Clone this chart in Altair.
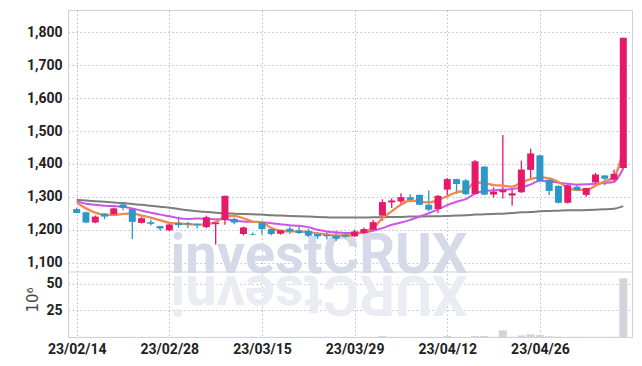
import altair as alt
import pandas as pd

# ---- data ----
tick_idx = [0, 10, 20, 30, 40, 50]
tick_labels = ["23/02/14", "23/02/28", "23/03/15", "23/03/29", "23/04/12", "23/04/26"]
price_ticks = [1100, 1200, 1300, 1400, 1500, 1600, 1700, 1800]
vol_ticks = [25, 50]

open_ = [1263, 1253, 1222, 1249, 1247, 1277, 1263, 1221, 1223, 1211,
         1198, 1221, 1220, 1218, 1208, 1217, 1230, 1233, 1187, 1186,
         1222, 1202, 1188, 1203, 1198, 1197, 1187, 1185, 1182, 1185,
         1180, 1190, 1200, 1243, 1283, 1286, 1299, 1306, 1276, 1263,
         1322, 1354, 1350, 1309, 1392, 1307, 1314, 1304, 1314, 1382,
         1426, 1352, 1333, 1282, 1331, 1306, 1344, 1365, 1352, 1388]
high = [1267, 1255, 1243, 1251, 1268, 1278, 1265, 1238, 1231, 1212,
        1219, 1240, 1224, 1220, 1243, 1227, 1304, 1237, 1210, 1192,
        1227, 1207, 1200, 1210, 1210, 1203, 1192, 1195, 1198, 1188,
        1200, 1207, 1230, 1293, 1296, 1311, 1308, 1307, 1319, 1306,
        1357, 1355, 1354, 1412, 1393, 1329, 1488, 1321, 1410, 1446,
        1428, 1353, 1335, 1337, 1340, 1328, 1373, 1366, 1383, 1784]
low = [1250, 1220, 1220, 1232, 1242, 1259, 1172, 1219, 1213, 1197,
       1196, 1206, 1205, 1204, 1205, 1155, 1215, 1217, 1183, 1183,
       1185, 1183, 1185, 1187, 1187, 1178, 1172, 1170, 1166, 1176,
       1178, 1188, 1198, 1227, 1266, 1276, 1283, 1275, 1256, 1251,
       1298, 1309, 1306, 1307, 1305, 1298, 1295, 1273, 1312, 1354,
       1346, 1306, 1280, 1280, 1317, 1300, 1335, 1335, 1344, 1385]
close = [1251, 1222, 1240, 1240, 1265, 1267, 1224, 1235, 1218, 1204,
         1216, 1214, 1216, 1215, 1238, 1222, 1303, 1222, 1207, 1184,
         1202, 1187, 1198, 1195, 1190, 1182, 1180, 1180, 1173, 1179,
         1195, 1202, 1223, 1284, 1289, 1299, 1291, 1276, 1261, 1303,
         1354, 1339, 1308, 1408, 1307, 1316, 1321, 1311, 1383, 1432,
         1349, 1318, 1282, 1335, 1320, 1327, 1368, 1355, 1370, 1784]
ma_short = [1283, 1265, 1252, 1245, 1245, 1248, 1250, 1243, 1237, 1229,
            1221, 1219, 1217, 1215, 1217, 1223, 1240, 1242, 1235, 1225,
            1223, 1205, 1197, 1195, 1195, 1193, 1189, 1186, 1182, 1182,
            1186, 1195, 1205, 1235, 1256, 1276, 1289, 1286, 1283, 1290,
            1302, 1314, 1319, 1344, 1342, 1336, 1334, 1331, 1344, 1354,
            1359, 1356, 1345, 1328, 1321, 1321, 1334, 1347, 1360, 1442]
ma_mid = [1287, 1279, 1276, 1273, 1272, 1270, 1265, 1258, 1252, 1246,
          1241, 1235, 1233, 1234, 1233, 1232, 1232, 1228, 1225, 1224,
          1223, 1220, 1217, 1214, 1212, 1208, 1200, 1195, 1192, 1190,
          1190, 1192, 1197, 1205, 1215, 1222, 1230, 1240, 1250, 1262,
          1275, 1285, 1293, 1310, 1318, 1320, 1322, 1324, 1328, 1338,
          1349, 1347, 1343, 1340, 1337, 1338, 1340, 1342, 1346, 1387]
ma_long = [1291, 1289, 1287, 1285, 1283, 1281, 1278, 1276, 1273, 1270,
           1267, 1263, 1259, 1256, 1254, 1252, 1250, 1249, 1248, 1247,
           1246, 1244, 1243, 1242, 1241, 1240, 1239, 1238, 1237, 1237,
           1237, 1237, 1238, 1238, 1239, 1239, 1240, 1240, 1241, 1241,
           1242, 1243, 1244, 1246, 1247, 1248, 1249, 1251, 1253, 1254,
           1256, 1257, 1258, 1259, 1259, 1260, 1261, 1262, 1264, 1272]
volume = [0.15] * 33 + [0.9, 0.15, 0.15, 0.15, 0.15, 0.15, 0.15,
          0.9, 0.15, 0.15, 0.9, 0.9, 0.15, 6.2, 0.2, 1.5, 2.5,
          1.8, 0.7, 0.3, 0.2, 0.2, 0.2, 0.2, 0.2, 0.3, 54.9]

df = pd.DataFrame({
    "i": list(range(len(open_))),
    "open": open_, "high": high, "low": low, "close": close,
    "ma_short": ma_short, "ma_mid": ma_mid, "ma_long": ma_long,
    "vol": volume,
})

RED = "#e6196b"
BLUE = "#2c97c9"
GRID = "#b9bdd3"
LINE = "#cfd0da"
FONT = "Roboto"
LBL = dict(labelFont=FONT, labelFontSize=14, labelFontWeight="bold", labelColor="#222222")
DASH = [1.5, 2.5]

label_expr = "[" + ",".join("'%s'" % t for t in tick_labels) + "][round(datum.value/10)]"

X = alt.X("i:Q",
          scale=alt.Scale(domain=[-0.4, 59.4], nice=False, zero=False),
          axis=alt.Axis(values=tick_idx, labelExpr=label_expr, grid=True,
                        gridColor=GRID, gridDash=DASH, gridWidth=1,
                        domain=True, domainColor=LINE, ticks=False,
                        labelPadding=5, title=None, labelFlush=False, **LBL))

price_scale = alt.Scale(domain=[874, 1868], nice=False, zero=False)
price_axis = alt.Axis(orient="left", values=price_ticks,
                      labelExpr="format(datum.value, ',')", grid=True, gridColor=GRID,
                      gridDash=DASH, domain=True, domainColor=LINE, ticks=False,
                      labelPadding=6, title=None, **LBL)

col = alt.condition("datum.close >= datum.open", alt.value(RED), alt.value(BLUE))
base = alt.Chart(df)

wick = base.mark_rule(strokeWidth=1.3).encode(
    x=X, y=alt.Y("low:Q", scale=price_scale, axis=price_axis), y2="high:Q", color=col)
body = base.mark_bar(size=7).encode(
    x=X, y=alt.Y("open:Q", scale=price_scale, axis=price_axis), y2="close:Q", color=col)
line_long = base.mark_line(color="#7c7c7c", strokeWidth=2, interpolate="monotone").encode(
    x=X, y=alt.Y("ma_long:Q", scale=price_scale, axis=price_axis))
line_mid = base.mark_line(color="#cc55e8", strokeWidth=2, interpolate="monotone").encode(
    x=X, y=alt.Y("ma_mid:Q", scale=price_scale, axis=price_axis))
line_short = base.mark_line(color="#f0894c", strokeWidth=2.3, interpolate="monotone").encode(
    x=X, y=alt.Y("ma_short:Q", scale=price_scale, axis=price_axis))

price = alt.layer(wick, line_long, line_mid, line_short, body)

vol = base.mark_bar(size=8, color="#d3d3dc").encode(
    x=X,
    y=alt.Y("vol:Q", scale=alt.Scale(domain=[0, 306], nice=False),
            axis=alt.Axis(orient="left", values=vol_ticks, grid=True, gridColor=GRID,
                          gridDash=DASH, domain=False, ticks=False,
                          labelPadding=6, title=None, **LBL)))

one = alt.Chart(pd.DataFrame({"t": ["investCRUX"], "r": ["XURCtsevni"]}))
wm = one.mark_text(font="Roboto", fontWeight="bold", fontSize=56, color="#d5d9e8",
                   align="center", baseline="alphabetic").encode(
    x=alt.value(251), y=alt.value(263), text="t:N")
wm_ref = one.mark_text(font="Roboto", fontWeight="bold", fontSize=56, color="#eaecf3",
                       align="center", baseline="alphabetic", angle=180).encode(
    x=alt.value(251), y=alt.value(266), text="r:N")
sep = one.mark_rule(color=LINE, strokeWidth=1).encode(
    x=alt.value(0), x2=alt.value(564), y=alt.value(262))
vtitle = one.mark_text(font="DejaVu Sans", fontSize=15, color="#444444", angle=270,
                       align="center", baseline="middle").encode(
    x=alt.value(-35), y=alt.value(290), text=alt.value("10⁶"))

chart = alt.layer(wm, wm_ref, vol, sep, vtitle, price).resolve_scale(
    y="independent"
).properties(
    width=564, height=327,
    padding={"left": 60, "top": 2, "right": 2, "bottom": 21},
    autosize=alt.AutoSizeParams(type="none"),
).configure_view(stroke=LINE, strokeWidth=1)

chart.save("out.html", embed_options={"renderer": "svg", "actions": False})
